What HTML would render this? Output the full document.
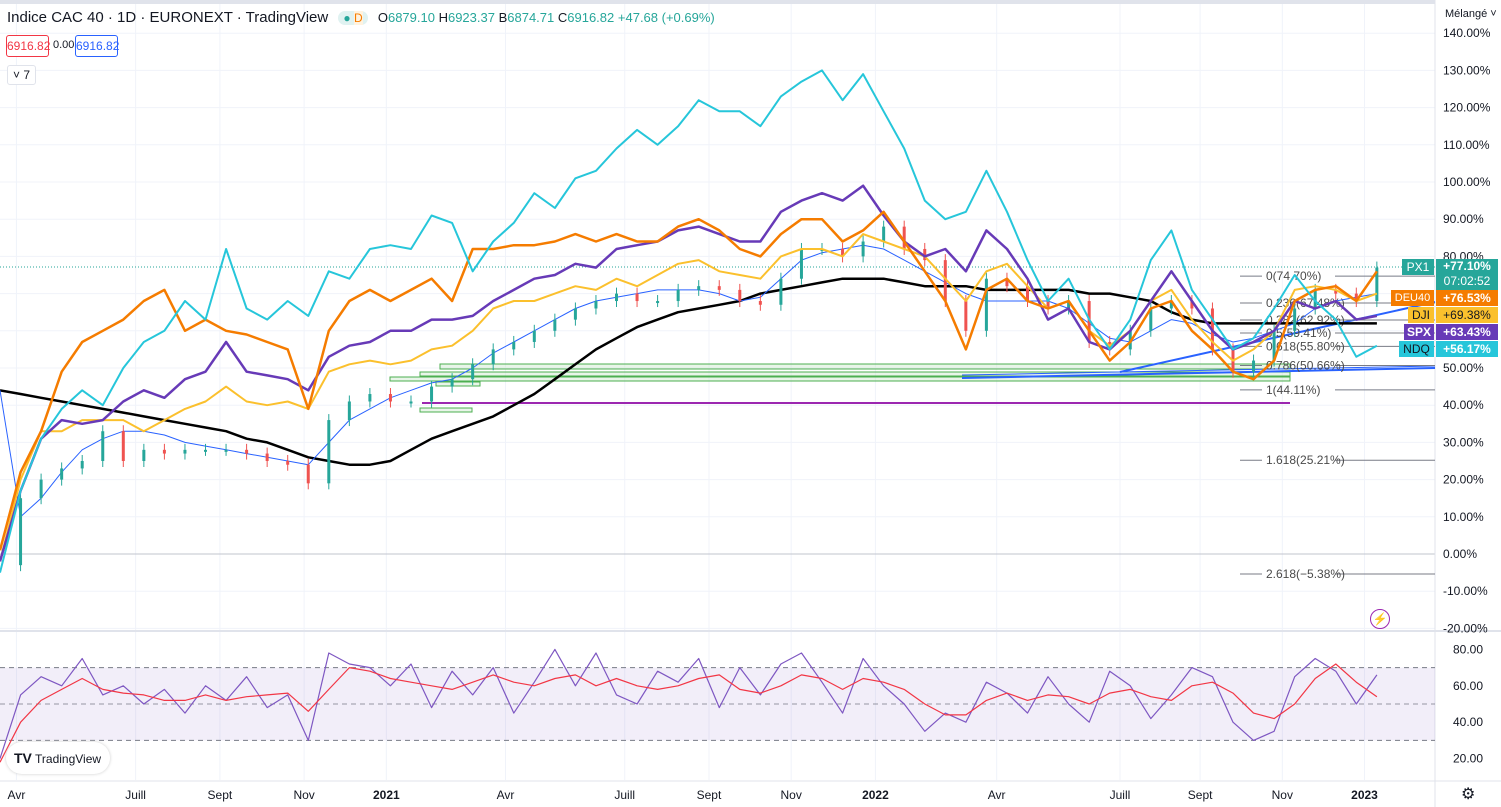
<!DOCTYPE html>
<html><head><meta charset="utf-8">
<style>
html,body{margin:0;padding:0;background:#fff;width:1501px;height:807px;overflow:hidden;font-family:"Liberation Sans",sans-serif;}
svg{position:absolute;left:0;top:0;}
text{font-family:"Liberation Sans",sans-serif;}
</style></head>
<body>
<svg id="chart" width="1501" height="807"></svg>
<script>
// ---- data (half-month steps from ~20 Mar 2020) ----
const ndq=[-5,17,31,39,44,40,50,57,60,68,63,82,66,63,68,64,76,74,82,83,82,91,89,76,84,89,97,93,101,103,109,114,110,115,122,119,119,115,123,127,130,122,129,119,109,95,90,92,103,92,79,68,74,63,55,63,79,87,71,63,55,58,66,75,68,63,53,56];
const deu=[1,22,33,49,57,60,63,68,71,60,63,60,59,57,55,39,60,68,71,68,71,74,68,82,82,83,83,84,86,84,86,84,84,88,90,87,82,80,86,90,90,84,87,92,84,76,68,55,71,74,68,66,68,60,52,57,66,68,60,55,49,47,52,68,71,72,68,76];
const spx=[-2,17,31,36,35,36,41,44,42,47,49,57,49,48,47,44,53,56,57,60,60,63,63,64,68,71,74,75,78,77,82,83,84,87,88,86,84,84,92,95,97,95,99,91,84,80,82,76,87,82,74,63,66,57,55,60,68,76,68,60,55,57,60,68,66,68,63,64];
const dji=[-2,20,33,33,36,36,36,33,36,39,41,45,41,40,41,39,49,51,52,51,52,55,56,60,66,68,68,70,72,71,74,72,75,78,79,76,75,74,80,82,82,80,86,84,82,80,74,68,76,78,72,66,68,60,56,60,68,71,63,57,52,55,60,71,72,71,68,70];
const cac=[-3,15,20,23,25,33,25,28,27,28,28,28,27,25,24,19,36,41,43,41,41,45,47,51,55,57,60,63,66,68,70,68,68,71,72,71,68,67,74,82,82,80,84,88,82,79,68,60,74,72,68,66,68,57,55,60,66,68,66,55,49,52,60,66,71,70,68,77];
const sma200=[44,43,42,41,40,39,38,37,36,35,34,33,31,30,28,26,25,24,24,25,28,31,33,35,37,40,43,47,51,55,58,61,63,65,66,67,68,70,71,72,73,74,74,74,73,72,72,72,71,71,71,71,71,70,70,69,68,65,63,62,62,62,62,62,62,62,62,62];
const sma50=[44,10,15,22,28,31,33,33,32,30,29,28,27,26,25,24,30,36,39,42,44,46,47,50,54,57,60,63,66,68,69,70,71,71,71,70,68,69,74,79,81,82,83,82,79,76,73,70,68,68,68,68,66,62,58,57,60,63,62,59,57,58,60,62,66,68,69,70];
const rsi=[20,55,65,60,75,55,60,50,58,45,60,52,65,48,55,30,78,72,70,60,72,48,68,55,70,45,62,80,60,78,55,50,68,62,75,48,70,55,72,78,62,45,75,60,50,35,45,40,62,56,45,65,50,40,68,60,42,55,70,65,40,30,35,65,75,68,50,66];
const rsiMa=[18,40,52,58,64,58,56,55,52,52,55,52,54,55,56,46,58,70,68,64,62,60,58,62,66,62,60,64,66,60,64,60,58,60,64,66,58,56,60,66,64,58,64,62,58,50,44,44,52,56,52,55,54,50,56,58,54,52,60,62,56,45,42,50,64,72,62,54];
const months=["Avr","Juill","Sept","Nov","2021","Avr","Juill","Sept","Nov","2022","Avr","Juill","Sept","Nov","2023"];
const monthIdx=[0.8,6.6,10.7,14.8,18.8,24.6,30.4,34.5,38.5,42.6,48.5,54.5,58.4,62.4,66.4];
const yTicks=[140,130,120,110,100,90,80,50,40,30,20,10,0,-10,-20];
const rsiTicks=[80,60,40,20];
const fibLevels=[74.70,67.48,62.92,59.41,55.80,50.66,44.11,25.21,-5.38];
const fibLabels=["0(74.70%)","0.236(67.48%)","0.382(62.92%)","0.5(59.41%)","0.618(55.80%)","0.786(50.66%)","1(44.11%)","1.618(25.21%)","2.618(\u22125.38%)"];

// ---- axes ----
const X=i=>i*20.55;
const Y=p=>554-p*3.72;
const RY=v=>704-(v-50)*1.82;
const NS="http://www.w3.org/2000/svg";
const svg=document.getElementById('chart');
function mk(tag,attrs,parent){const e=document.createElementNS(NS,tag);for(const k in attrs)e.setAttribute(k,attrs[k]);(parent||svg).appendChild(e);return e;}
function poly(arr,fn,color,w,name){const pts=arr.map((v,i)=>X(i).toFixed(1)+","+fn(v).toFixed(1)).join(" ");
 const e=mk('polyline',{points:pts,fill:'none',stroke:color,'stroke-width':w,'stroke-linejoin':'round'});
 
 return e;}

// grid
for(let k=0;k<monthIdx.length;k++){const g=mk('line',{x1:X(monthIdx[k]),x2:X(monthIdx[k]),y1:0,y2:780,stroke:'#f0f3fa'});
 
 }
for(let p=-20;p<=140;p+=10){const g=mk('line',{x1:0,x2:1435,y1:Y(p),y2:Y(p),stroke:'#f0f3fa'});
 
 }
mk('line',{x1:0,x2:1435,y1:Y(0),y2:Y(0),stroke:'#b2b5be','stroke-width':0.8});
mk('line',{x1:0,x2:1501,y1:631,y2:631,stroke:'#e0e3eb','stroke-width':2});
mk('line',{x1:0,x2:1501,y1:781,y2:781,stroke:'#e0e3eb'});
mk('line',{x1:1435,x2:1435,y1:0,y2:807,stroke:'#e0e3eb'});

// RSI band
mk('rect',{x:0,y:RY(70),width:1435,height:RY(30)-RY(70),fill:'#7e57c2','fill-opacity':0.1});
[70,50,30].forEach(v=>{const l=mk('line',{x1:0,x2:1435,y1:RY(v),y2:RY(v),stroke:'#787b86','stroke-dasharray':'5,4','stroke-width':v==50?0.7:1});
 
 });

// green zones & horizontals
[[440,364,1290,369],[390,377,1290,381],[420,372,1290,376],[436,382,480,386],[420,408,472,412]].forEach(r=>{const e=mk('rect',{x:r[0],y:r[1],width:r[2]-r[0],height:r[3]-r[1],fill:'#c8e6c9','fill-opacity':0.4,stroke:'#4caf50','stroke-width':1});
 
 });
mk('line',{x1:422,x2:1290,y1:403,y2:403,stroke:'#9c27b0','stroke-width':2});
mk('line',{x1:962,x2:1435,y1:378,y2:368,stroke:'#2962ff','stroke-width':2});
mk('line',{x1:962,x2:1435,y1:375,y2:366,stroke:'#2962ff','stroke-width':1});
mk('line',{x1:1120,x2:1435,y1:372,y2:302,stroke:'#2962ff','stroke-width':2});
mk('line',{x1:0,x2:1435,y1:267,y2:267,stroke:'#26a69a','stroke-dasharray':'1,2'});

// fib levels
fibLevels.forEach((p,k)=>{const y=Y(p);
 const l=mk('line',{x1:1240,x2:1262,y1:y,y2:y,stroke:'#787b86'});
 
 
 mk('line',{x1:1335,x2:1435,y1:y,y2:y,stroke:'#787b86'});
 const t=mk('text',{x:1266,y:y+4,'font-size':12,fill:'#4a4a4a'});t.textContent=fibLabels[k];
 
 });

// series
poly(sma200,Y,'#000',2.5,'sma-200-line');
poly(sma50,Y,'#2962ff',1,'sma-50-line');
cac.forEach((v,i)=>{if(i==0)return;const up=v>=cac[i-1];const y1=Y(cac[i-1]),y2=Y(v);
 const wk=mk('line',{x1:X(i),x2:X(i),y1:Math.min(y1,y2)-6,y2:Math.max(y1,y2)+6,stroke:up?'#26a69a':'#ef5350','stroke-width':1});
 
 
 const r=mk('rect',{x:X(i)-1.5,y:Math.min(y1,y2),width:3,height:Math.max(2,Math.abs(y2-y1)),fill:up?'#26a69a':'#ef5350'});
 
 });
poly(dji,Y,'#fbc02d',2,'dji-line');
poly(spx,Y,'#673ab7',2.5,'spx-line');
poly(deu,Y,'#f57c00',2.5,'deu40-line');
poly(ndq,Y,'#26c6da',2,'ndq-line');
poly(rsi,RY,'#7e57c2',1.2,'rsi-line');
poly(rsiMa,RY,'#f23645',1.2,'rsi-ma-line');

// right axis
yTicks.forEach(p=>{const t=mk('text',{x:1443,y:Y(p)+4,'font-size':12,fill:'#131722'});t.textContent=p.toFixed(2)+"%";
 
 });
rsiTicks.forEach(v=>{const t=mk('text',{x:1453,y:RY(v)+4,'font-size':12,fill:'#131722'});t.textContent=v.toFixed(2);
 
 });
months.forEach((m,k)=>{const t=mk('text',{x:X(monthIdx[k]),y:799,'font-size':12,fill:'#131722','text-anchor':'middle','font-weight':m.length==4&&m[0]=='2'?'bold':'normal'});t.textContent=m;
 
 });
</script>
<div style="position:absolute;left:0;top:0;font-size:12px;">
 <div style="position:absolute;left:1445px;top:8px;color:#131722;font-size:11px;white-space:nowrap;">Mélangé ˅</div>
 <div style="position:absolute;left:1402px;top:259px;width:32px;height:16px;background:#26a69a;color:#fff;text-align:center;line-height:16px;">PX1</div>
 <div style="position:absolute;left:1436px;top:259px;width:62px;height:31px;background:#26a69a;color:#fff;text-align:center;line-height:15px;font-weight:bold;">+77.10%<br><span style="font-weight:normal">07:02:52</span></div>
 <div style="position:absolute;left:1391px;top:290px;width:43px;height:16px;background:#f57c00;color:#fff;text-align:center;line-height:16px;font-size:11px;">DEU40</div>
 <div style="position:absolute;left:1436px;top:290px;width:62px;height:16px;background:#f57c00;color:#fff;text-align:center;line-height:16px;font-weight:bold;">+76.53%</div>
 <div style="position:absolute;left:1408px;top:307px;width:26px;height:16px;background:#fbc02d;color:#131722;text-align:center;line-height:16px;">DJI</div>
 <div style="position:absolute;left:1436px;top:307px;width:62px;height:16px;background:#fbc02d;color:#131722;text-align:center;line-height:16px;">+69.38%</div>
 <div style="position:absolute;left:1404px;top:324px;width:30px;height:16px;background:#673ab7;color:#fff;text-align:center;line-height:16px;font-weight:bold;">SPX</div>
 <div style="position:absolute;left:1436px;top:324px;width:62px;height:16px;background:#673ab7;color:#fff;text-align:center;line-height:16px;font-weight:bold;">+63.43%</div>
 <div style="position:absolute;left:1399px;top:341px;width:35px;height:16px;background:#26c6da;color:#131722;text-align:center;line-height:16px;">NDQ</div>
 <div style="position:absolute;left:1436px;top:341px;width:62px;height:16px;background:#26c6da;color:#fff;text-align:center;line-height:16px;font-weight:bold;">+56.17%</div>
</div>
<div style="position:absolute;left:0;top:0;width:1435px;height:4px;background:#e0e3eb;"></div>
<div style="position:absolute;left:7px;top:9px;font-size:15px;color:#131722;white-space:nowrap;">Indice CAC 40 · 1D · EURONEXT · TradingView
 <span style="display:inline-block;background:#e0f2f1;border-radius:8px;padding:0 5px;margin-left:6px;font-size:12px;"><span style="color:#26a69a">●</span> <span style="color:#f57c00;background:#fff3e0">D</span></span>
 <span style="font-size:13px;margin-left:6px;">O<span style="color:#26a69a">6879.10</span> H<span style="color:#26a69a">6923.37</span> B<span style="color:#26a69a">6874.71</span> C<span style="color:#26a69a">6916.82</span> <span style="color:#26a69a">+47.68 (+0.69%)</span></span></div>
<div style="position:absolute;left:6px;top:35px;width:43px;height:22px;box-sizing:border-box;border:1px solid #f23645;border-radius:3px;color:#f23645;font-size:12px;line-height:20px;text-align:center;background:#fff;">6916.82</div>
<div style="position:absolute;left:53px;top:39px;color:#131722;font-size:11px;">0.00</div>
<div style="position:absolute;left:75px;top:35px;width:43px;height:22px;box-sizing:border-box;border:1px solid #2962ff;border-radius:3px;color:#2962ff;font-size:12px;line-height:20px;text-align:center;background:#fff;">6916.82</div>
<div style="position:absolute;left:7px;top:65px;border:1px solid #e0e3eb;border-radius:3px;color:#131722;font-size:12px;padding:2px 5px;background:#fff;">˅ 7</div>
<div style="position:absolute;left:6px;top:742px;width:104px;height:32px;border-radius:16px;background:#fff;box-shadow:0 0 3px #ccc;font-size:12px;color:#131722;line-height:32px;"><b style="margin-left:8px;font-size:14px;">TV</b> TradingView</div>
<div style="position:absolute;left:1370px;top:609px;width:18px;height:18px;border:1.5px solid #9c27b0;border-radius:50%;color:#9c27b0;font-size:12px;text-align:center;line-height:18px;">⚡</div>
<div style="position:absolute;left:1461px;top:784px;font-size:16px;color:#131722;">⚙</div>
</body></html>
